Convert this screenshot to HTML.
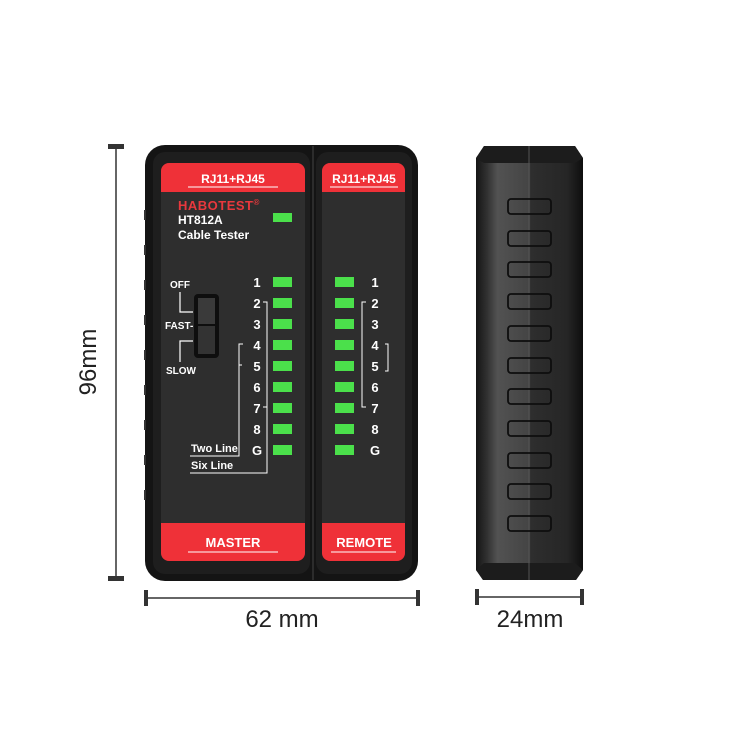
<!DOCTYPE html>
<html><head><meta charset="utf-8"><style>
html,body{margin:0;padding:0;background:#fff;}
svg{display:block;font-family:"Liberation Sans",Arial,sans-serif;}
</style></head><body>
<svg width="750" height="750" viewBox="0 0 750 750" xmlns="http://www.w3.org/2000/svg">
<defs>
<linearGradient id="side" x1="0" x2="1" y1="0" y2="0">
<stop offset="0" stop-color="#151515"/><stop offset="0.1" stop-color="#303030"/><stop offset="0.2" stop-color="#525252"/><stop offset="0.5" stop-color="#444"/><stop offset="0.51" stop-color="#2e2e2e"/><stop offset="0.85" stop-color="#262626"/><stop offset="1" stop-color="#0e0e0e"/>
</linearGradient>
</defs>
<g stroke="#333" fill="#333">
<line x1="116" y1="146" x2="116" y2="578" stroke-width="1.5"/>
<rect x="108" y="144" width="16" height="5" stroke="none"/>
<rect x="108" y="576" width="16" height="5" stroke="none"/>
<line x1="146" y1="598" x2="418" y2="598" stroke-width="1.5"/>
<rect x="144" y="590" width="4" height="16" stroke="none"/>
<rect x="416" y="590" width="4" height="16" stroke="none"/>
<line x1="477" y1="597" x2="582" y2="597" stroke-width="1.5"/>
<rect x="475" y="589" width="4" height="16" stroke="none"/>
<rect x="580" y="589" width="4" height="16" stroke="none"/>
</g>
<text x="0" y="0" font-size="24" fill="#222" text-anchor="middle" transform="translate(96,362) rotate(-90)">96mm</text>
<text x="282" y="627" font-size="24" fill="#222" text-anchor="middle">62 mm</text>
<text x="530" y="627" font-size="24" fill="#222" text-anchor="middle">24mm</text>

<rect x="145" y="145" width="273" height="436" rx="20" fill="#141414"/>
<g fill="#333">
<rect x="144" y="210" width="2" height="10"/><rect x="144" y="245" width="2" height="10"/><rect x="144" y="280" width="2" height="10"/><rect x="144" y="315" width="2" height="10"/><rect x="144" y="350" width="2" height="10"/><rect x="144" y="385" width="2" height="10"/><rect x="144" y="420" width="2" height="10"/><rect x="144" y="455" width="2" height="10"/><rect x="144" y="490" width="2" height="10"/>
</g>
<rect x="153" y="152" width="157" height="422" rx="12" fill="#1e1e1e"/>
<rect x="316" y="152" width="96" height="422" rx="12" fill="#1e1e1e"/>
<line x1="313" y1="146" x2="313" y2="580" stroke="#444" stroke-width="1"/>
<rect x="161" y="163" width="144" height="398" rx="8" fill="#2e2e2e"/>
<path d="M161 192 V171 a8 8 0 0 1 8 -8 H297 a8 8 0 0 1 8 8 V192 Z" fill="#ef3138"/>
<path d="M161 523 V553 a8 8 0 0 0 8 8 H297 a8 8 0 0 0 8 -8 V523 Z" fill="#ef3138"/>
<rect x="322" y="163" width="83" height="398" rx="8" fill="#2e2e2e"/>
<path d="M322 192 V171 a8 8 0 0 1 8 -8 H397 a8 8 0 0 1 8 8 V192 Z" fill="#ef3138"/>
<path d="M322 523 V553 a8 8 0 0 0 8 8 H397 a8 8 0 0 0 8 -8 V523 Z" fill="#ef3138"/>

<g fill="#fff" font-weight="bold">
<text x="233" y="183" font-size="12" text-anchor="middle">RJ11+RJ45</text>
<line x1="188" y1="187" x2="278" y2="187" stroke="#fff" stroke-width="1"/>
<text x="364" y="183" font-size="12" text-anchor="middle">RJ11+RJ45</text>
<line x1="330" y1="187" x2="398" y2="187" stroke="#fff" stroke-width="1"/>
<text x="233" y="547" font-size="13" text-anchor="middle">MASTER</text>
<line x1="188" y1="552" x2="278" y2="552" stroke="#fff" stroke-width="1"/>
<text x="364" y="547" font-size="13" text-anchor="middle">REMOTE</text>
<line x1="331" y1="552" x2="396" y2="552" stroke="#fff" stroke-width="1"/>
<text x="178" y="210" font-size="13" fill="#e8383d" letter-spacing="0.5">HABOTEST<tspan font-size="8" dy="-5">®</tspan></text>
<text x="178" y="224" font-size="12">HT812A</text>
<text x="178" y="239" font-size="12">Cable Tester</text>
<text x="170" y="288" font-size="10">OFF</text>
<text x="165" y="329" font-size="10">FAST-</text>
<text x="166" y="374" font-size="10">SLOW</text>
<text x="191" y="452" font-size="11">Two Line</text>
<text x="191" y="469" font-size="11">Six Line</text>
</g>
<rect x="273" y="213" width="19" height="9" fill="#4be04b"/>
<rect x="194" y="294" width="25" height="64" rx="4" fill="#0e0e0e"/>
<rect x="198" y="298" width="17" height="26" fill="#3a3a3a"/>
<rect x="198" y="326" width="17" height="28" fill="#333"/>
<path d="M180 292 V312 H193" stroke="#fff" stroke-width="1.2" fill="none"/>
<path d="M180 362 V341 H193" stroke="#fff" stroke-width="1.2" fill="none"/>
<path d="M190 456 H239 V344 H243" stroke="#fff" stroke-width="1" fill="none"/>
<path d="M190 473 H267 V302 H263" stroke="#fff" stroke-width="1" fill="none"/>
<line x1="239" y1="365" x2="242" y2="365" stroke="#fff"/>
<line x1="267" y1="407" x2="263" y2="407" stroke="#fff"/>
<path d="M366 302 H362 V407 H366" stroke="#fff" stroke-width="1" fill="none"/>
<path d="M385 344 H388 V371 H385" stroke="#fff" stroke-width="1" fill="none"/>
<g fill="#4be04b">
<rect x="273" y="277" width="19" height="10"/><rect x="273" y="298" width="19" height="10"/><rect x="273" y="319" width="19" height="10"/><rect x="273" y="340" width="19" height="10"/><rect x="273" y="361" width="19" height="10"/><rect x="273" y="382" width="19" height="10"/><rect x="273" y="403" width="19" height="10"/><rect x="273" y="424" width="19" height="10"/><rect x="273" y="445" width="19" height="10"/>
<rect x="335" y="277" width="19" height="10"/><rect x="335" y="298" width="19" height="10"/><rect x="335" y="319" width="19" height="10"/><rect x="335" y="340" width="19" height="10"/><rect x="335" y="361" width="19" height="10"/><rect x="335" y="382" width="19" height="10"/><rect x="335" y="403" width="19" height="10"/><rect x="335" y="424" width="19" height="10"/><rect x="335" y="445" width="19" height="10"/>
</g>
<g fill="#fff" font-size="13" font-weight="bold" text-anchor="middle">
<text x="257" y="287">1</text><text x="257" y="308">2</text><text x="257" y="329">3</text><text x="257" y="350">4</text><text x="257" y="371">5</text><text x="257" y="392">6</text><text x="257" y="413">7</text><text x="257" y="434">8</text><text x="257" y="455">G</text>
<text x="375" y="287">1</text><text x="375" y="308">2</text><text x="375" y="329">3</text><text x="375" y="350">4</text><text x="375" y="371">5</text><text x="375" y="392">6</text><text x="375" y="413">7</text><text x="375" y="434">8</text><text x="375" y="455">G</text>
</g>

<path d="M484 146 L575 146 L583 158 L583 570 L576 580 L483 580 L476 570 L476 158 Z" fill="url(#side)"/>
<path d="M484 146 L575 146 L583 158 L575 163 L484 163 L476 158 Z" fill="#1c1c1c"/>
<path d="M476 570 L484 563 L575 563 L583 570 L576 580 L483 580 Z" fill="#1c1c1c"/>
<line x1="529" y1="146" x2="529" y2="580" stroke="#555" stroke-width="1"/>
<g fill="none" stroke="#0e0e0e" stroke-width="1.8">
<rect x="508" y="199" width="43" height="15" rx="3"/><rect x="508" y="231" width="43" height="15" rx="3"/><rect x="508" y="262" width="43" height="15" rx="3"/><rect x="508" y="294" width="43" height="15" rx="3"/><rect x="508" y="326" width="43" height="15" rx="3"/><rect x="508" y="358" width="43" height="15" rx="3"/><rect x="508" y="389" width="43" height="15" rx="3"/><rect x="508" y="421" width="43" height="15" rx="3"/><rect x="508" y="453" width="43" height="15" rx="3"/><rect x="508" y="484" width="43" height="15" rx="3"/><rect x="508" y="516" width="43" height="15" rx="3"/>
</g>
</svg>
</body></html>
